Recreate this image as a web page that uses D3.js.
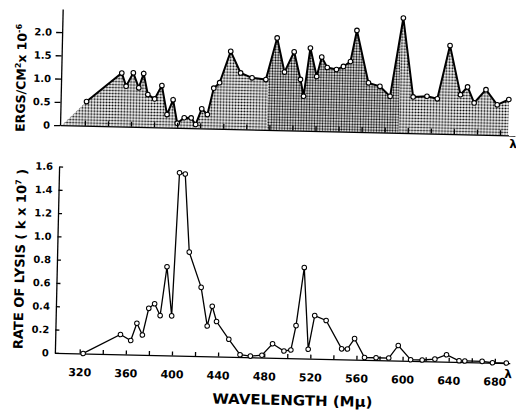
<!DOCTYPE html>
<html>
<head>
<meta charset="utf-8">
<script src="https://cdn.jsdelivr.net/npm/d3@7"></script>
<style>
  body { margin: 0; background: #fff; }
  svg { display: block; }
  .axis path, .axis line { stroke: #000; stroke-width: 1.3px; }
  .axis text { font-family: "DejaVu Sans", sans-serif; font-weight: bold; fill: #000; }
  .title { font-family: "DejaVu Sans", sans-serif; font-weight: bold; fill: #000; }
</style>
</head>
<body>
<svg id="chart" width="516" height="413"></svg>
<script>
// irradiance spectrum (top panel), ergs/cm2 x 10^-6
var specWavelength = [300, 321, 351, 355, 361, 366, 370, 374, 380, 386, 391, 396, 400, 406, 412, 416,
  421, 426, 431, 436, 445, 454, 464, 476, 485, 492, 500, 506, 509, 514, 520, 524, 529, 537, 543,
  549, 554, 565, 575, 584, 594, 604, 616, 625, 635, 645, 651, 657, 667, 677, 687];
var specValue = [0, 0.52, 1.15, 0.87, 1.16, 0.84, 1.15, 0.70, 0.61, 0.90, 0.28, 0.60, 0.10, 0.22, 0.22, 0.08,
  0.42, 0.30, 0.87, 0.99, 1.67, 1.21, 1.11, 1.08, 1.98, 1.25, 1.69, 1.10, 0.74, 1.78, 1.17, 1.59, 1.37, 1.33, 1.40,
  1.51, 2.18, 1.06, 0.99, 0.78, 2.47, 0.78, 0.80, 0.75, 1.90, 0.85, 1.02, 0.68, 0.97, 0.65, 0.77];

// rate of lysis (bottom panel), k x 10^7
var lysisWavelength = [323, 355, 364, 369, 374, 379, 384, 389, 394, 399, 403, 408, 413, 424, 430, 434,
  438, 449, 459, 468, 478, 487, 497, 503, 507, 513, 518, 523, 533, 547, 552, 558, 567, 577, 588,
  596, 607, 617, 628, 638, 649, 654, 669, 678, 690];
var lysisRate = [0, 0.17, 0.12, 0.27, 0.17, 0.40, 0.44, 0.34, 0.76, 0.34, 1.57, 1.56, 0.89, 0.59, 0.26, 0.43,
  0.30, 0.15, 0.02, 0.01, 0.02, 0.12, 0.06, 0.07, 0.28, 0.78, 0.08, 0.37, 0.33, 0.09, 0.09, 0.18, 0.02, 0.02, 0.02,
  0.13, 0.01, 0.01, 0.02, 0.06, 0.01, 0.01, 0.01, 0, 0];

var specTicks = [0, 0.5, 1.0, 1.5, 2.0];
var specTickLabels = ['0', '0.5', '1.0', '1.5', '2.0'];
var lysisTicks = [0, 0.2, 0.4, 0.6, 0.8, 1.0, 1.2, 1.4, 1.6];
var lysisTickLabels = ['0', '0.2', '0.4', '0.6', '0.8', '1.0', '1.2', '1.4', '1.6'];
var wavelengthTicks = [320, 340, 360, 380, 400, 420, 440, 460, 480, 500, 520, 540, 560, 580, 600, 620, 640, 660, 680];
var wavelengthLabels = [320, 360, 400, 440, 480, 520, 560, 600, 640, 680];

var svg = d3.select('#chart');
// the scanned figure is tilted a little clockwise
var g = svg.append('g').attr('transform', 'rotate(1.3,285,240)');

var defs = svg.append('defs');
var dots = defs.append('pattern').attr('id', 'dots').attr('width', 3).attr('height', 3)
  .attr('patternUnits', 'userSpaceOnUse');
dots.append('rect').attr('width', 3).attr('height', 3).attr('fill', '#fff');
dots.append('circle').attr('cx', 1.5).attr('cy', 1.5).attr('r', 1.05).attr('fill', '#000');
var dense = defs.append('pattern').attr('id', 'dense').attr('width', 2.7).attr('height', 2.7)
  .attr('patternUnits', 'userSpaceOnUse');
dense.append('rect').attr('width', 2.7).attr('height', 2.7).attr('fill', '#fff');
dense.append('circle').attr('cx', 1.35).attr('cy', 1.35).attr('r', 1.05).attr('fill', '#000');

var x = d3.scaleLinear().domain([298.5, 693]).range([57.5, 512.5]);
var yTop = d3.scaleLinear().domain([0, 2.5]).range([130.3, 14]);
var yBot = d3.scaleLinear().domain([0, 1.6]).range([358, 171.6]);

// ---- top panel
var spec = specWavelength.map(function (w, i) { return {x: w, y: specValue[i]}; });
var area = d3.area().x(function (d) { return x(d.x); }).y0(yTop(0)).y1(function (d) { return yTop(d.y); });
var line = d3.line().x(function (d) { return x(d.x); }).y(function (d) { return yTop(d.y); });

g.append('path').datum(spec).attr('d', area).attr('fill', 'url(#dots)');
defs.append('clipPath').attr('id', 'midclip').append('rect')
  .attr('x', x(478)).attr('y', 0).attr('width', x(592) - x(478)).attr('height', 200);
g.append('path').datum(spec).attr('d', area).attr('fill', 'url(#dense)').attr('clip-path', 'url(#midclip)');
g.append('path').datum(spec.slice(1)).attr('d', line)
  .attr('fill', 'none').attr('stroke', '#000').attr('stroke-width', 2).attr('stroke-linejoin', 'miter');
g.selectAll('.specpt').data(spec.slice(1)).enter().append('circle').attr('class', 'specpt')
  .attr('cx', function (d) { return x(d.x); }).attr('cy', function (d) { return yTop(d.y); })
  .attr('r', 2.3).attr('fill', '#fff').attr('stroke', '#000').attr('stroke-width', 1.1);

g.append('g').attr('class', 'axis').attr('transform', 'translate(0,' + yTop(0) + ')')
  .call(d3.axisBottom(x).tickValues(wavelengthTicks).tickSizeInner(-5).tickSizeOuter(0).tickFormat(''));
g.append('g').attr('class', 'axis').attr('transform', 'translate(' + x.range()[0] + ',0)')
  .call(d3.axisLeft(yTop).tickValues(specTicks).tickSizeInner(6).tickSizeOuter(0).tickPadding(4)
    .tickFormat(function (d, i) { return specTickLabels[i]; }))
  .selectAll('text').style('font-size', '10px');

// ---- bottom panel
var lysis = lysisWavelength.map(function (w, i) { return {x: w, y: lysisRate[i]}; });
var line2 = d3.line().x(function (d) { return x(d.x); }).y(function (d) { return yBot(d.y); });

g.append('g').attr('class', 'axis').attr('transform', 'translate(0,' + yBot(0) + ')')
  .call(d3.axisBottom(x).tickValues(wavelengthTicks).tickSizeInner(-4).tickSizeOuter(0).tickPadding(15)
    .tickFormat(function (d) { return wavelengthLabels.indexOf(d) >= 0 ? d : ''; }))
  .selectAll('text').style('font-size', '11px');
g.append('g').attr('class', 'axis').attr('transform', 'translate(' + x.range()[0] + ',0)')
  .call(d3.axisLeft(yBot).tickValues(lysisTicks).tickSizeInner(-4).tickSizeOuter(0).tickPadding(6)
    .tickFormat(function (d, i) { return lysisTickLabels[i]; }))
  .selectAll('text').style('font-size', '10px');

g.append('path').datum(lysis).attr('d', line2)
  .attr('fill', 'none').attr('stroke', '#000').attr('stroke-width', 1.3);
g.selectAll('.lyspt').data(lysis).enter().append('circle').attr('class', 'lyspt')
  .attr('cx', function (d) { return x(d.x); }).attr('cy', function (d) { return yBot(d.y); })
  .attr('r', 2.3).attr('fill', '#fff').attr('stroke', '#000').attr('stroke-width', 1);

// ---- titles
g.append('text').attr('class', 'title').attr('x', 296).attr('y', 405).attr('text-anchor', 'middle')
  .style('font-size', '14px').attr('textLength', 160).attr('lengthAdjust', 'spacingAndGlyphs')
  .text('WAVELENGTH (Mμ)');

var t1 = g.append('text').attr('class', 'title').attr('transform', 'translate(22,84) rotate(-90)')
  .attr('text-anchor', 'middle').style('font-size', '12.5px');
t1.append('tspan').text('ERGS/CM');
t1.append('tspan').attr('dy', -5).style('font-size', '8px').text('2');
t1.append('tspan').attr('dy', 5).text('x 10');
t1.append('tspan').attr('dy', -5).style('font-size', '8px').text('-6');

var t2 = g.append('text').attr('class', 'title').attr('transform', 'translate(25,265) rotate(-90)')
  .attr('text-anchor', 'middle').style('font-size', '13px');
t2.append('tspan').text('RATE OF LYSIS ( k x 10');
t2.append('tspan').attr('dy', -5).style('font-size', '8px').text('7');
t2.append('tspan').attr('dy', 5).text(' )');

g.append('text').attr('class', 'title').attr('x', 511).attr('y', 143).attr('text-anchor', 'middle')
  .style('font-size', '12px').text('λ');
g.append('text').attr('class', 'title').attr('x', 511).attr('y', 373).attr('text-anchor', 'middle')
  .style('font-size', '12px').text('λ');
</script>
</body>
</html>
